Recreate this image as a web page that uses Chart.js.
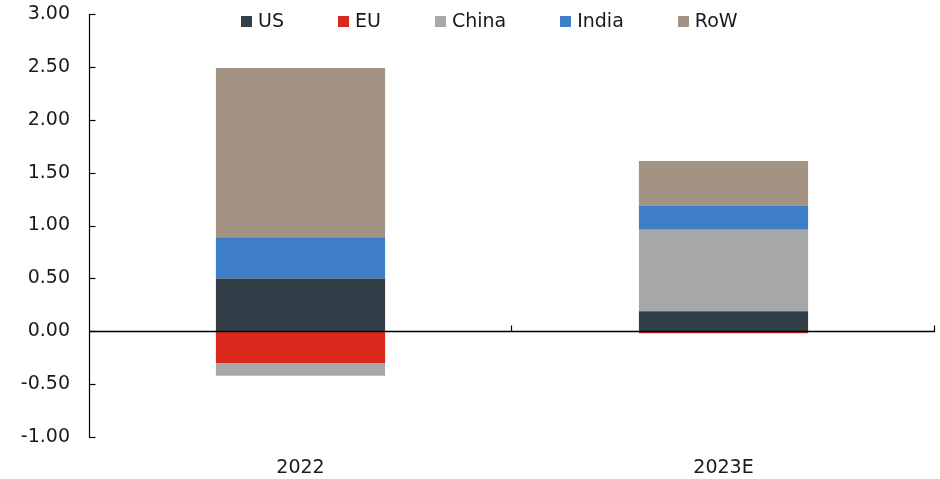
<!DOCTYPE html>
<html>
<head>
<meta charset="utf-8">
<script src="https://cdn.jsdelivr.net/npm/chart.js@4/dist/chart.umd.min.js"></script>
<style>
  html, body { margin: 0; padding: 0; background: #ffffff; }
  #wrap { width: 940px; height: 479px; position: relative; }
</style>
</head>
<body>
<div id="wrap"><canvas id="c" width="940" height="479"></canvas></div>
<script>
// Contributions by region, stacked per year
const categories = ['2022', '2023E'];
const seriesNames = ['US', 'EU', 'China', 'India', 'RoW'];
const usValues    = [0.50, 0.19];
const euValues    = [-0.30, -0.02];
const chinaValues = [-0.12, 0.77];
const indiaValues = [0.39, 0.23];
const rowValues   = [1.60, 0.42];
const yTickValues = [-1, -0.5, 0, 0.5, 1, 1.5, 2, 2.5, 3];

const colors = ['#333f48', '#da291c', '#a7a8aa', '#3f7fca', '#a39382'];
const seriesValues = [usValues, euValues, chinaValues, indiaValues, rowValues];
const FONT = '"DejaVu Sans", sans-serif';
const TEXT = '#1a1a1a';

// Axis line, zero line, inward ticks and the legend row
const decorations = {
  id: 'decorations',
  afterDatasetsDraw(chart) {
    const { ctx, chartArea, scales } = chart;
    const x = scales.x, y = scales.y;
    const y0 = Math.round(y.getPixelForValue(0)) + 0.5;
    const ax = Math.round(chartArea.left) + 0.5;
    ctx.save();
    ctx.strokeStyle = '#000';
    ctx.lineWidth = 1.2;
    // vertical value axis
    ctx.beginPath();
    ctx.moveTo(ax, Math.round(y.getPixelForValue(3)));
    ctx.lineTo(ax, Math.round(y.getPixelForValue(-1)) + 1);
    ctx.stroke();
    // y ticks pointing into the plot
    yTickValues.forEach(v => {
      const py = Math.round(y.getPixelForValue(v)) + 0.5;
      ctx.beginPath();
      ctx.moveTo(ax, py);
      ctx.lineTo(ax + 6, py);
      ctx.stroke();
    });
    // zero line across the plot
    ctx.lineWidth = 1.5;
    ctx.beginPath();
    ctx.moveTo(ax, y0);
    ctx.lineTo(chartArea.right, y0);
    ctx.stroke();
    // category boundary ticks on the zero line
    ctx.lineWidth = 1.2;
    const half = (x.getPixelForValue(1) - x.getPixelForValue(0)) / 2;
    for (let i = 0; i < categories.length; i++) {
      const bx = Math.round(x.getPixelForValue(i) + half) - 0.5;
      ctx.beginPath();
      ctx.moveTo(bx, y0);
      ctx.lineTo(bx, y0 - 6);
      ctx.stroke();
    }
    ctx.restore();
  },
  afterDraw(chart) {
    const { ctx } = chart;
    ctx.save();
    ctx.font = '19px ' + FONT;
    ctx.textBaseline = 'middle';
    const box = 11, gapText = 6, gapItem = 54;
    let lx = 241;
    const ly = 21;
    seriesNames.forEach((n, i) => {
      ctx.fillStyle = colors[i];
      ctx.fillRect(Math.round(lx), ly - 5, box, box);
      ctx.fillStyle = TEXT;
      ctx.fillText(n, lx + box + gapText, ly + 1);
      lx += box + gapText + ctx.measureText(n).width + gapItem;
    });
    ctx.restore();
  }
};

new Chart(document.getElementById('c'), {
  type: 'bar',
  data: {
    labels: categories,
    datasets: seriesNames.map((name, i) => ({
      label: name,
      data: seriesValues[i],
      backgroundColor: colors[i],
      borderWidth: 0,
      categoryPercentage: 1.0,
      barPercentage: 0.4
    }))
  },
  options: {
    responsive: false,
    animation: false,
    layout: { padding: { top: 14, right: 5, left: 0, bottom: 0 } },
    plugins: { legend: { display: false }, tooltip: { enabled: false } },
    scales: {
      x: {
        stacked: true,
        grid: { display: false },
        border: { display: false },
        ticks: { color: TEXT, font: { family: FONT, size: 19 }, padding: 12 },
        afterFit(s) { s.height = 42; }
      },
      y: {
        stacked: true,
        min: -1,
        max: 3,
        afterBuildTicks(s) { s.ticks = yTickValues.map(v => ({ value: v })); },
        grid: { display: false },
        border: { display: false },
        ticks: {
          color: TEXT,
          font: { family: FONT, size: 19 },
          padding: 11,
          callback: v => v.toFixed(2)
        },
        afterFit(s) {
          s.width = 89;
          s.paddingTop = 0;
          s.paddingBottom = 0;
        }
      }
    }
  },
  plugins: [decorations]
});
</script>
</body>
</html>
